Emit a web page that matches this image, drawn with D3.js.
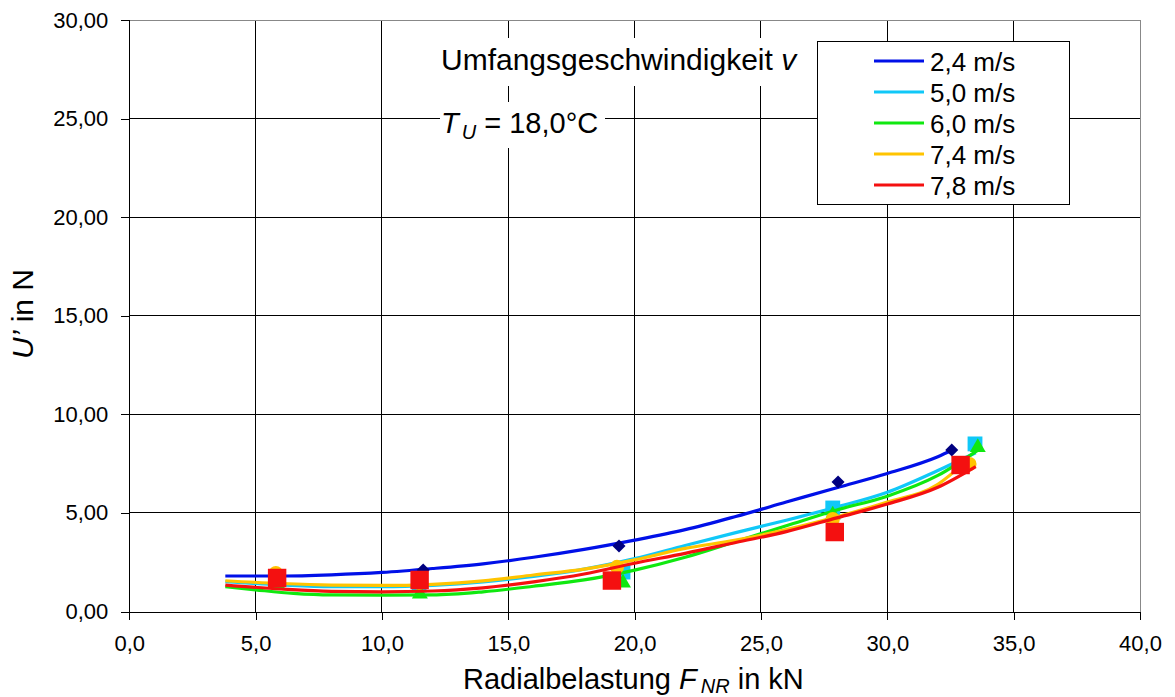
<!DOCTYPE html>
<html>
<head>
<meta charset="utf-8">
<script src="https://cdn.jsdelivr.net/npm/d3@7"></script>
<style>
  body { margin: 0; background: #fff; }
  svg { display: block; font-family: "Liberation Sans", Arial, sans-serif; }
</style>
</head>
<body>
<div id="chart"></div>
<script>
// values (x in kN, y in N)
const seriesNames = ["2,4 m/s", "5,0 m/s", "6,0 m/s", "7,4 m/s", "7,8 m/s"];
const lineColors = ["#0010e8", "#10c8f8", "#10e810", "#ffc400", "#f41010"];
const markerColors = ["#000080", "#10c8f8", "#10e810", "#ffc400", "#f41010"];
const markerShapes = ["diamond", "square", "triangle", "circle", "square"];

const line24 = [[3.8,1.80],[6,1.80],[8,1.86],[10,1.98],[12,2.18],[14,2.42],[16,2.75],[18,3.15],[20,3.62],[22,4.15],[24,4.82],[26,5.55],[28,6.28],[30,7.0],[32,7.85],[32.6,8.2]];
const line50 = [[3.8,1.51],[6,1.35],[8,1.26],[10,1.26],[12,1.33],[14,1.5],[16,1.78],[18,2.15],[20,2.68],[22,3.35],[24,4.0],[26,4.63],[28,5.3],[30,6.05],[32,7.15],[33.5,8.05]];
const line60 = [[3.8,1.26],[5,1.1],[6.5,0.92],[8,0.84],[10,0.83],[12,0.84],[14,1.0],[16,1.28],[18,1.6],[20,2.1],[22,2.75],[24,3.55],[26,4.35],[28,5.15],[30,5.85],[32,6.9],[33.6,8.2]];
const line74 = [[3.8,1.56],[6,1.42],[8,1.34],[10,1.32],[12,1.38],[14,1.55],[16,1.85],[18,2.15],[20,2.62],[22,3.2],[24,3.62],[26,4.15],[28,4.8],[30,5.55],[32,6.45],[33.1,7.6]];
const line78 = [[3.8,1.34],[6,1.14],[8,1.02],[10,1.0],[12,1.04],[14,1.2],[16,1.5],[18,1.9],[20,2.45],[22,2.95],[24,3.5],[26,4.05],[28,4.75],[30,5.45],[32,6.3],[33.5,7.35]];

const points24 = [[5.85,1.85],[11.63,2.11],[19.38,3.32],[28.05,6.57],[32.55,8.19]];
const points50 = [[5.85,1.6],[11.47,1.34],[19.54,2.0],[27.84,5.25],[33.47,8.5]];
const points60 = [[5.85,1.4],[11.5,0.89],[19.54,1.45],[27.84,4.9],[33.58,8.32]];
const points74 = [[5.8,1.95],[11.47,1.45],[19.3,2.26],[27.84,4.69],[33.25,7.48]];
const points78 = [[5.85,1.70],[11.49,1.60],[19.1,1.57],[27.92,4.03],[32.9,7.43]];

const xTicks = [0, 5, 10, 15, 20, 25, 30, 35, 40];
const yTicks = [0, 5, 10, 15, 20, 25, 30];

const lines = [line24, line50, line60, line74, line78];
const points = [points24, points50, points60, points74, points78];

const width = 1175, height = 697;
const svg = d3.select("#chart").append("svg")
    .attr("width", width)
    .attr("height", height);

const x = d3.scaleLinear().domain([0, 40]).range([129.3, 1140]);
const y = d3.scaleLinear().domain([0, 30]).range([611.5, 20]);

const de = d3.formatLocale({decimal: ",", thousands: ".", grouping: [3], currency: ["", " €"]});
const fx = de.format(".1f"), fy = de.format(".2f");

// grid
const grid = svg.append("g").attr("shape-rendering", "crispEdges");
grid.selectAll(".vx").data(xTicks.slice(1)).enter().append("line")
    .attr("x1", d => x(d)).attr("x2", d => x(d))
    .attr("y1", y(30)).attr("y2", y(0))
    .attr("stroke", d => d == 40 ? "#888" : "#000");
grid.selectAll(".hy").data(yTicks.slice(1)).enter().append("line")
    .attr("x1", x(0)).attr("x2", x(40))
    .attr("y1", d => y(d)).attr("y2", d => y(d))
    .attr("stroke", d => d == 30 ? "#888" : "#000");

// axes
const xAxis = svg.append("g")
    .attr("transform", "translate(0," + y(0) + ")")
    .call(d3.axisBottom(x).tickValues(xTicks).tickFormat(fx).tickSize(8).tickPadding(16));
const yAxis = svg.append("g")
    .attr("transform", "translate(" + x(0) + ",0)")
    .call(d3.axisLeft(y).tickValues(yTicks).tickFormat(fy).tickSize(8).tickPadding(13));
[xAxis, yAxis].forEach(a => {
    a.select(".domain").attr("stroke", "#000").attr("shape-rendering", "crispEdges");
    a.selectAll(".tick line").attr("stroke", "#000").attr("shape-rendering", "crispEdges");
    a.selectAll("text").attr("fill", "#000").attr("font-size", 22)
        .attr("font-family", "Liberation Sans, Arial, sans-serif");
});
xAxis.selectAll("text").attr("dy", "0.71em");

// annotation boxes (white, they hide the grid)
svg.append("rect").attr("x", 430).attr("y", 38).attr("width", 378).attr("height", 48).attr("fill", "#fff");
svg.append("rect").attr("x", 440).attr("y", 102).attr("width", 165).attr("height", 46).attr("fill", "#fff");

svg.append("text").attr("x", 441).attr("y", 70).attr("font-size", 30)
    .text("Umfangsgeschwindigkeit ")
    .append("tspan").attr("font-style", "italic").text("v");

const tu = svg.append("text").attr("x", 441).attr("y", 133).attr("font-size", 29);
tu.append("tspan").attr("font-style", "italic").text("T");
tu.append("tspan").attr("font-style", "italic").attr("font-size", 20).attr("dx", 3).attr("dy", 6).text("U");
tu.append("tspan").attr("dy", -6).text(" = 18,0°C");

// series
const lineGen = d3.line().x(d => x(d[0])).y(d => y(d[1])).curve(d3.curveMonotoneX);
const plot = svg.append("g");
lines.forEach((ln, i) => {
    const g = plot.append("g");
    g.append("path").datum(ln)
        .attr("d", lineGen)
        .attr("fill", "none")
        .attr("stroke", lineColors[i])
        .attr("stroke-width", 3.2);
    const shape = markerShapes[i];
    let sym, rot = 0;
    if (shape == "diamond") { sym = d3.symbol(d3.symbolSquare, 85); rot = 45; }
    else if (shape == "triangle") sym = d3.symbol(d3.symbolTriangle, 110);
    else if (shape == "circle") sym = d3.symbol(d3.symbolCircle, 160);
    else sym = d3.symbol(d3.symbolSquare, i == 4 ? 340 : 220);
    g.selectAll("path.m").data(points[i]).enter().append("path")
        .attr("class", "m")
        .attr("transform", d => "translate(" + x(d[0]) + "," + y(d[1]) + ") rotate(" + rot + ")")
        .attr("d", sym)
        .attr("fill", markerColors[i]);
});

// legend
const legend = svg.append("g");
legend.append("rect").attr("x", 817.5).attr("y", 41.5).attr("width", 252).attr("height", 163)
    .attr("fill", "#fff").attr("stroke", "#000");
const rows = legend.selectAll("g.row").data(seriesNames).enter().append("g")
    .attr("class", "row")
    .attr("transform", (d, i) => "translate(0," + (61 + i * 31) + ")");
rows.append("line").attr("x1", 874).attr("x2", 924).attr("y1", 0).attr("y2", 0)
    .attr("stroke", (d, i) => lineColors[i]).attr("stroke-width", 3);
rows.append("text").attr("x", 930).attr("y", 10).attr("font-size", 26).text(d => d);

// axis titles
const xt = svg.append("text").attr("x", 463).attr("y", 689).attr("font-size", 29);
xt.append("tspan").text("Radialbelastung ");
xt.append("tspan").attr("font-style", "italic").text("F");
xt.append("tspan").attr("font-style", "italic").attr("font-size", 20).attr("dx", 4).attr("dy", 4).text("NR");
xt.append("tspan").attr("dy", -4).text("  in kN");

const yt = svg.append("text").attr("transform", "translate(33,314) rotate(-90)")
    .attr("text-anchor", "middle").attr("font-size", 30);
yt.append("tspan").attr("font-style", "italic").text("U’");
yt.append("tspan").text(" in N");
</script>
</body>
</html>
